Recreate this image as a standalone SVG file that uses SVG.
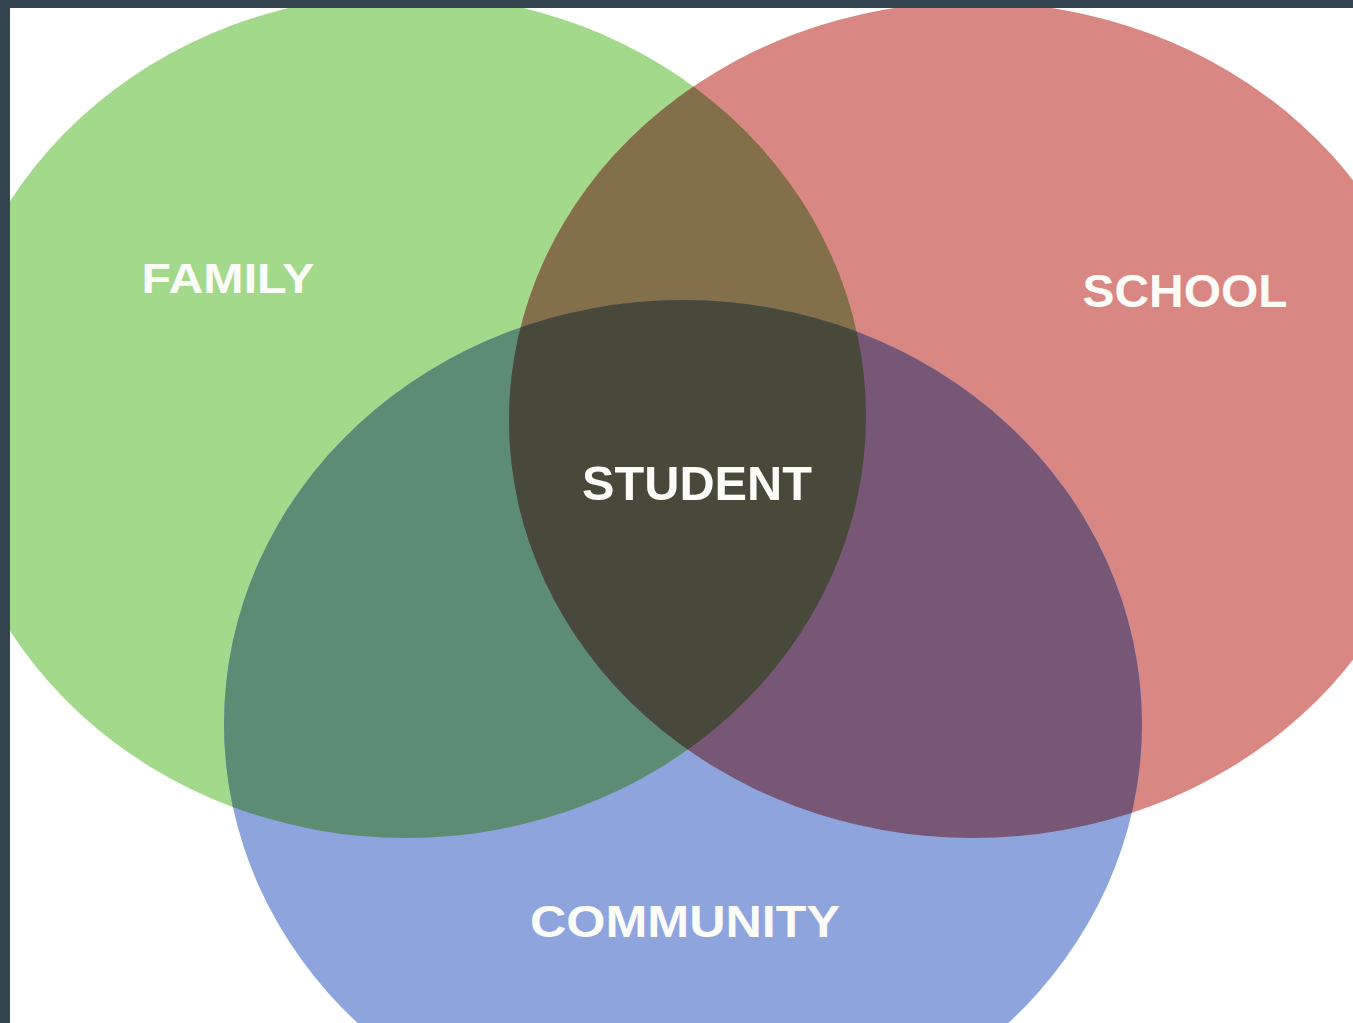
<svg xmlns="http://www.w3.org/2000/svg" width="1353" height="1023" viewBox="0 0 1353 1023">
  <style>
    .lbl { font-family: "Liberation Sans", Arial, sans-serif; font-weight: 700; fill: #fbfbf8; text-anchor: middle; }
  </style>
  <defs>
    <clipPath id="cF"><ellipse cx="406" cy="416" rx="460" ry="422"/></clipPath>
    <clipPath id="cS"><ellipse cx="973" cy="420" rx="464" ry="418"/></clipPath>
    <clipPath id="cC"><ellipse cx="683" cy="724" rx="459" ry="424"/></clipPath>
  </defs>
  <rect x="0" y="0" width="1353" height="1023" fill="#ffffff"/>

  <g id="family">
    <ellipse cx="406" cy="416" rx="460" ry="422" fill="#a3d98a"/>
    <text class="lbl" x="228" y="293" font-size="43" textLength="173" lengthAdjust="spacingAndGlyphs">FAMILY</text>
  </g>
  <g id="school">
    <ellipse cx="973" cy="420" rx="464" ry="418" fill="#d98783"/>
    <text class="lbl" x="1185" y="307" font-size="46" textLength="205" lengthAdjust="spacingAndGlyphs">SCHOOL</text>
  </g>
  <g id="community">
    <ellipse cx="683" cy="724" rx="459" ry="424" fill="#8ea4dd"/>
    <text class="lbl" x="685" y="937" font-size="45" textLength="310" lengthAdjust="spacingAndGlyphs">COMMUNITY</text>
  </g>

  <g id="overlaps">
    <g clip-path="url(#cF)">
      <ellipse cx="973" cy="420" rx="464" ry="418" fill="#83704a"/>
      <ellipse cx="683" cy="724" rx="459" ry="424" fill="#5d8c75"/>
    </g>
    <g clip-path="url(#cS)">
      <ellipse cx="683" cy="724" rx="459" ry="424" fill="#775676"/>
    </g>
  </g>

  <g id="student">
    <g clip-path="url(#cF)">
      <g clip-path="url(#cS)">
        <ellipse cx="683" cy="724" rx="459" ry="424" fill="#48493b"/>
      </g>
    </g>
    <text class="lbl" x="697" y="500" font-size="48" textLength="230" lengthAdjust="spacingAndGlyphs">STUDENT</text>
  </g>

  <g id="connectors"/>

  <g id="frame" fill="#35454f">
    <rect x="0" y="0" width="1353" height="8"/>
    <rect x="0" y="0" width="10" height="1023"/>
  </g>
</svg>
